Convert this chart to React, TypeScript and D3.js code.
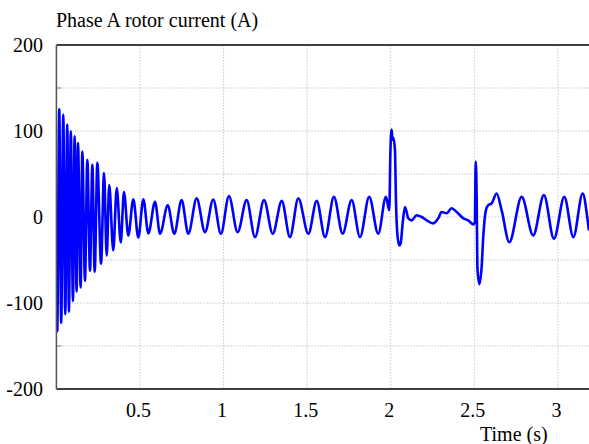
import * as d3 from "d3";

// rotor current trace (peaks/troughs + transients)
const timeS = [
  0, 0.005, 0.017, 0.029, 0.041, 0.053, 0.065, 0.075, 0.086, 0.099, 0.109, 0.121,
  0.129, 0.145, 0.155, 0.171, 0.185, 0.201, 0.215, 0.229, 0.245, 0.267, 0.285,
  0.301, 0.316, 0.34, 0.361, 0.385, 0.404, 0.43, 0.46, 0.49, 0.52, 0.55,
  0.59, 0.62, 0.666, 0.705, 0.749, 0.789, 0.839, 0.889, 0.938, 0.984, 1.032,
  1.084, 1.138, 1.188, 1.242, 1.294, 1.348, 1.397, 1.447, 1.507, 1.557, 1.607,
  1.66, 1.712, 1.766, 1.816, 1.871, 1.925, 1.971, 1.991, 1.998, 2.005, 2.01,
  2.015, 2.025, 2.031, 2.04, 2.051, 2.059, 2.071, 2.085, 2.105, 2.125, 2.155,
  2.185, 2.215, 2.254, 2.284, 2.304, 2.334, 2.364, 2.394, 2.434, 2.463, 2.493,
  2.503, 2.508, 2.514, 2.518, 2.53, 2.544, 2.553, 2.569, 2.583, 2.603, 2.633,
  2.663, 2.709, 2.783, 2.852, 2.916, 2.976, 3.038, 3.092, 3.148, 3.175, 3.185,
];
const currentA = [
  0, -132.8, 125.1, -123.1, 119.2, -113.2, 107.5, -110.2, 99.6, -97.6, 93.8, -86.7,
  86.0, -82.0, 76.2, -74.2, 66.5, -62.5, 60.6, -63.6, 62.9, -54.3, 51.2,
  -44.9, 37.2, -39.0, 33.6, -29.7, 28.9, -21.4, 20.7, -23.8, 20.7, -19.1,
  17.6, -19.5, 13.7, -19.5, 19.6, -19.5, 21.6, -17.6, 20.4, -19.5, 24.3,
  -17.6, 19.6, -23.4, 19.6, -19.5, 18.8, -23.4, 21.6, -19.5, 18.8, -23.4,
  23.4, -19.5, 19.6, -23.4, 23.4, -19.5, 23.4, 7.9, 78, 101.6, 90,
  92, 78.2, 19.6, -21.4, -33.1, -30.8, -7.4, 11.7, -1.5, -3.9, 2.0,
  0, -3.9, -7.4, -1.5, 5.9, 4.3, 10.2, 5.9, -1.5, -3.9, -8.6,
  -6.2, 64.5, 19.6, -58.6, -78.1, -56.6, -23.4, 7.9, 13.7, 15.7, 27.4,
  7.9, -29.3, 23.4, -21.4, 25.4, -25.3, 23.4, -23.4, 27.4, 0, -15.6,
];

const xTicks = [0.5, 1, 1.5, 2, 2.5, 3];
const yTicks = [200, 100, 0, -100, -200];
const yGrid = [150, 100, 50, 0, -50, -100, -150];

const W = 589;
const H = 444;
const left = 56.4;
const top = 45;
const bottom = 389;
const font = "'Liberation Serif', 'Times New Roman', serif";

export default function App() {
  const x = d3.scaleLinear().domain([0, 3.2]).range([left, 591.4]);
  const y = d3.scaleLinear().domain([-200, 200]).range([bottom, top]);

  const pts = timeS.map((t, i) => [t, currentA[i]] as [number, number]);
  const path = d3
    .line<[number, number]>()
    .x((d) => x(d[0]))
    .y((d) => y(d[1]))
    .curve(d3.curveMonotoneX)(pts);

  return (
    <svg
      width={W}
      height={H}
      style={{ position: "absolute", left: 0, top: 0, background: "#fff" }}
      fontFamily={font}
    >
      <defs>
        <clipPath id="plot">
          <rect x={left} y={top} width={W - left} height={bottom - top} />
        </clipPath>
      </defs>

      {/* grid */}
      {xTicks.map((t) => (
        <line
          key={"gx" + t}
          x1={x(t)}
          x2={x(t)}
          y1={top}
          y2={bottom}
          stroke="#c8c8c8"
          strokeDasharray="1.5,1.5"
        />
      ))}
      {yGrid.map((v) => (
        <line
          key={"gy" + v}
          x1={left}
          x2={W}
          y1={y(v)}
          y2={y(v)}
          stroke="#c8c8c8"
          strokeDasharray="1.5,1.5"
        />
      ))}
      {yGrid.map((v) => (
        <line key={"ty" + v} x1={left} x2={left + 5} y1={y(v)} y2={y(v)} stroke="#888" />
      ))}

      {/* signal */}
      <path
        d={path ?? ""}
        fill="none"
        stroke="#0000ff"
        strokeWidth={2.6}
        strokeLinejoin="round"
        clipPath="url(#plot)"
      />

      {/* frame */}
      <line x1={left} x2={W} y1={top} y2={top} stroke="#000" strokeWidth={1.5} />
      <line x1={left} x2={W} y1={bottom} y2={bottom} stroke="#000" strokeWidth={1.5} />
      <line x1={left} x2={left} y1={top} y2={bottom} stroke="#555" strokeWidth={1.5} />

      {/* labels */}
      {yTicks.map((v) => (
        <text key={"ly" + v} x={43} y={y(v) + 7} textAnchor="end" fontSize={20}>
          {v}
        </text>
      ))}
      {xTicks.map((t) => (
        <text key={"lx" + t} x={x(t) - 1.5} y={417} textAnchor="middle" fontSize={20}>
          {t}
        </text>
      ))}
      <text x={56} y={27} fontSize={20}>
        Phase A rotor current (A)
      </text>
      <text x={480} y={441} fontSize={20}>
        Time (s)
      </text>
    </svg>
  );
}
